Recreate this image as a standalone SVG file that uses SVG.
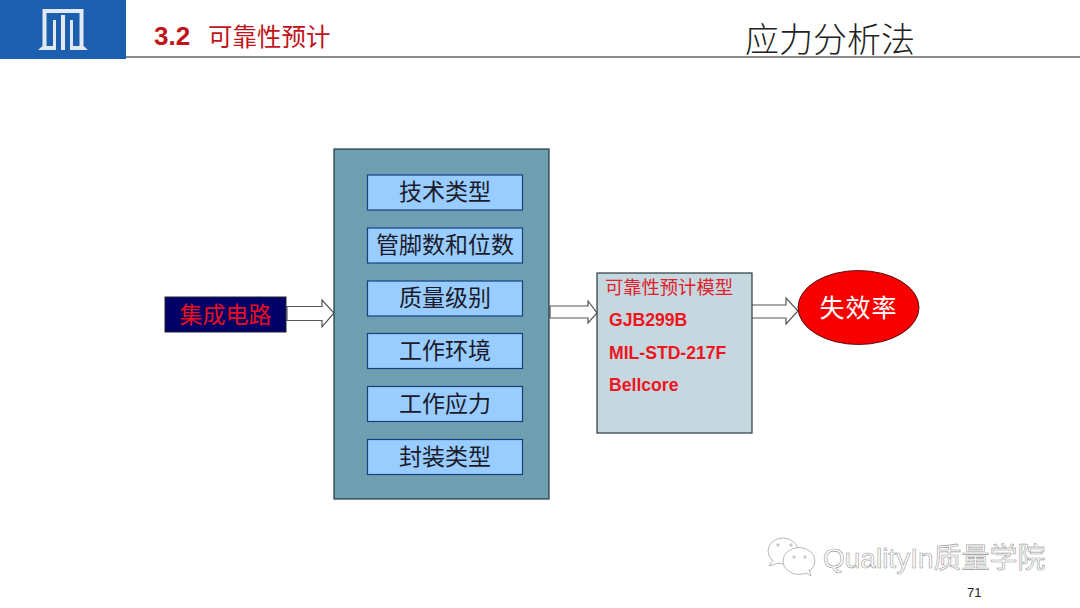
<svg xmlns="http://www.w3.org/2000/svg" width="1080" height="608" viewBox="0 0 1080 608">
<style>
text{font-family:"Liberation Sans","Noto Sans CJK SC",sans-serif}
.item rect{fill:#99ccff;stroke:#17407f;stroke-width:1.2}
.item text{font-size:23px;fill:#1a1a2a;text-anchor:middle}
.arrow{fill:#fff;stroke:#555;stroke-width:1.2}
.lat{font-size:17.6px;font-weight:bold;fill:#f0141e}
</style>
<rect width="1080" height="608" fill="#fff"/>
<g id="header">
<rect x="0" y="0" width="126" height="59" fill="#1b5fae"/>
<path d="M38 50 L42.500 46 V9 H83.500 V46 L88 50 H70 V20 H73 V46 H79.500 V13 H46.500 V46 H53 V20 H56 V50 Z" fill="#e3e9f2"/>
<path d="M61 15 H65 V50 H61 Z" fill="#e3e9f2"/>
<rect x="126" y="56" width="954" height="2" fill="#8c8c8c"/>
<text x="154" y="45" font-size="26" font-weight="bold" fill="#c0141a">3.2</text>
<text x="208" y="46" font-size="24.500" fill="#c0141a">可靠性预计</text>
<text x="745" y="52" font-size="34" fill="#222" font-weight="300">应力分析法</text>
</g>
<g id="connectors">
<path class="arrow" d="M287 306.500 H322 V300 L334 313 L322 327 V320.500 H287 Z"/>
<path class="arrow" d="M550 306 H588 V301 L597 313 L588 323 V318 H550 Z"/>
<path class="arrow" d="M751 305 H786 V298 L798 311 L786 324 V318 H751 Z"/>
</g>
<g id="source">
<rect x="165" y="297" width="121" height="35" fill="#000066" stroke="#223" stroke-width="1"/>
<text x="225.500" y="323" font-size="23" fill="#e8101c" text-anchor="middle">集成电路</text>
</g>
<g id="factors">
<rect x="334" y="149" width="215" height="350" fill="#6e9fb0" stroke="#1f3a3f" stroke-width="1.2"/>
<g id="f1" class="item"><rect x="367.500" y="175" width="155" height="35"/><text x="445" y="200">技术类型</text></g>
<g id="f2" class="item"><rect x="367.500" y="228" width="155" height="35"/><text x="445" y="253">管脚数和位数</text></g>
<g id="f3" class="item"><rect x="367.500" y="281" width="155" height="35"/><text x="445" y="306">质量级别</text></g>
<g id="f4" class="item"><rect x="367.500" y="333.500" width="155" height="35"/><text x="445" y="359">工作环境</text></g>
<g id="f5" class="item"><rect x="367.500" y="386.500" width="155" height="35"/><text x="445" y="412">工作应力</text></g>
<g id="f6" class="item"><rect x="367.500" y="439.500" width="155" height="35"/><text x="445" y="465">封装类型</text></g>
</g>
<g id="model">
<rect x="597" y="273" width="155" height="160" fill="#c5d7df" stroke="#2a3a40" stroke-width="1.2"/>
<text x="605" y="294" font-size="18.300" fill="#e0202c">可靠性预计模型</text>
<text x="609" y="326" class="lat">GJB299B</text>
<text x="609" y="359" class="lat">MIL-STD-217F</text>
<text x="609" y="391" class="lat">Bellcore</text>
</g>
<g id="result">
<ellipse cx="858.500" cy="307.500" rx="60.500" ry="37" fill="#f80000" stroke="#5a1010" stroke-width="1"/>
<text x="858.500" y="317" font-size="25" fill="#fff" text-anchor="middle" letter-spacing="1">失效率</text>
</g>
<g id="watermark" fill="#fff" stroke="#a8a8a8" stroke-width="0.8">
<ellipse cx="783" cy="551" rx="15" ry="13"/>
<path d="M773 560 L769 566 L779 563"/>
<ellipse cx="799" cy="561" rx="16" ry="13.500"/>
<path d="M806 573 L811 576 L809 569"/>
<circle cx="778" cy="545" r="1.200"/><circle cx="791" cy="545" r="1.200"/><circle cx="794" cy="557" r="1.200"/><circle cx="805" cy="557" r="1.200"/>
<text x="823" y="568" font-size="28" stroke="#9a9a9a" stroke-width="0.6">QualityIn质量学院</text>
</g>
<g id="page"><text x="967" y="597" font-size="13" fill="#222">71</text></g>
</svg>
